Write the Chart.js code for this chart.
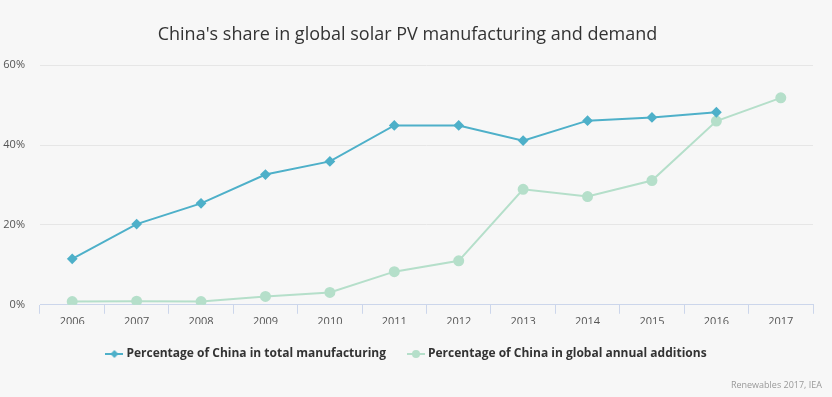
<!DOCTYPE html>
<html>
<head>
<meta charset="utf-8">
<script src="https://cdn.jsdelivr.net/npm/chart.js@4.4.0/dist/chart.umd.min.js"></script>
<style>
  html, body { margin: 0; padding: 0; background: #f7f7f7; }
  #wrap { position: relative; width: 832px; height: 397px; }
  .credits { position: absolute; right: 10px; bottom: 6px; font: 9px "Open Sans", sans-serif; color: #999; }
</style>
</head>
<body>
<div id="wrap">
  <canvas id="myChart" width="832" height="397"></canvas>
  <div class="credits">Renewables 2017, IEA</div>
</div>
<script>
const years = ["2006", "2007", "2008", "2009", "2010", "2011", "2012", "2013", "2014", "2015", "2016", "2017"];
const manufacturing = [11.5, 20.2, 25.4, 32.6, 35.9, 44.9, 44.9, 41.1, 46.1, 46.9, 48.2, null];
const additions = [0.8, 0.9, 0.8, 2.1, 3.1, 8.3, 11.0, 28.9, 27.1, 31.1, 46.0, 51.8];
const yTicks = [0, 20, 40, 60];

const azul = "#4eb0c9";
const verde = "#b5dfca";

// icono de leyenda: linea con marcador
function iconoLeyenda(color, forma) {
  const c = document.createElement("canvas");
  c.width = 18;
  c.height = 10;
  const g = c.getContext("2d");
  g.strokeStyle = color;
  g.lineWidth = 2;
  g.beginPath();
  g.moveTo(0, 5);
  g.lineTo(18, 5);
  g.stroke();
  g.fillStyle = color;
  g.beginPath();
  if (forma === "diamante") {
    g.moveTo(9, 1); g.lineTo(13, 5); g.lineTo(9, 9); g.lineTo(5, 5);
  } else {
    g.arc(9, 5, 4, 0, Math.PI * 2);
  }
  g.fill();
  return c;
}

const ctx = document.getElementById("myChart");

const myChart = new Chart(ctx, {
  type: "line",
  data: {
    labels: years,
    datasets: [{
      label: "Percentage of China in total manufacturing",
      data: manufacturing,
      borderColor: azul,
      backgroundColor: azul,
      borderWidth: 2,
      pointStyle: "rectRot",
      pointRadius: 4,
      pointHoverRadius: 4,
      tension: 0
    }, {
      label: "Percentage of China in global annual additions",
      data: additions,
      borderColor: verde,
      backgroundColor: verde,
      borderWidth: 2,
      pointStyle: "circle",
      pointRadius: 4.5,
      pointHoverRadius: 4.5,
      tension: 0
    }]
  },
  options: {
    responsive: false,
    animation: false,
    layout: { padding: { top: 24, left: 2, right: 19, bottom: 27 } },
    plugins: {
      title: {
        display: true,
        text: "China's share in global solar PV manufacturing and demand",
        color: "#333333",
        font: { family: "Open Sans", size: 18, weight: "normal" },
        padding: { top: 0, bottom: 19.5 }
      },
      legend: {
        position: "bottom",
        labels: {
          color: "#333333",
          font: { family: "Open Sans", size: 12, weight: "bold" },
          usePointStyle: true,
          padding: 24,
          generateLabels: function (chart) {
            return chart.data.datasets.map(function (ds, i) {
              return {
                text: ds.label,
                datasetIndex: i,
                pointStyle: iconoLeyenda(ds.borderColor, i === 0 ? "diamante" : "circulo"),
                fontColor: "#333333",
                hidden: false
              };
            });
          }
        }
      },
      tooltip: { enabled: false }
    },
    scales: {
      x: {
        offset: true,
        grid: {
          offset: true,
          drawOnChartArea: false,
          color: "#ccd6eb",
          tickLength: 9
        },
        border: { color: "#ccd6eb" },
        ticks: {
          color: "#555555",
          font: { family: "Open Sans", size: 11 },
          padding: 1
        },
        afterFit: function (axis) {
          axis.height = axis.height - 5;
        }
      },
      y: {
        min: 0,
        max: 60,
        afterBuildTicks: function (axis) {
          axis.ticks = yTicks.map(function (v) { return { value: v }; });
        },
        afterFit: function (axis) {
          axis.width = 38;
        },
        grid: { color: "#e6e6e6", drawTicks: false },
        border: { display: false },
        ticks: {
          color: "#555555",
          font: { family: "Open Sans", size: 11 },
          padding: 15,
          callback: function (v) { return v + "%"; }
        }
      }
    }
  }
});
</script>
</body>
</html>
